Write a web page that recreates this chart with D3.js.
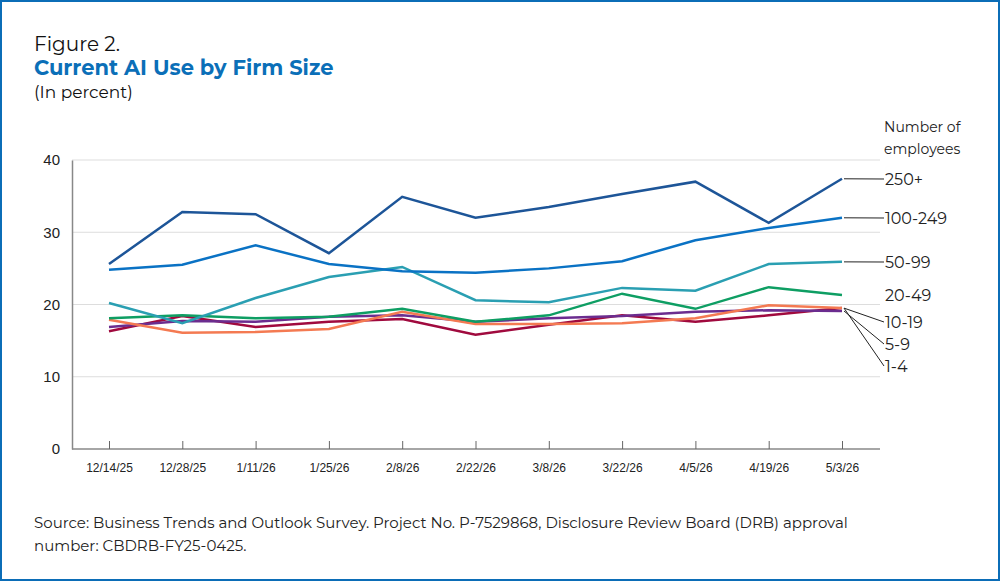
<!DOCTYPE html><html><head><meta charset="utf-8">
<script src="https://cdn.jsdelivr.net/npm/d3@7"></script>
<style>body{margin:0;background:#fff}svg{font-family:"Montserrat","Noto Sans",sans-serif}</style></head><body>
<svg id="c" width="1000" height="581"></svg>
<script>
const dates=["12/14/25","12/28/25","1/11/26","1/25/26","2/8/26","2/22/26","3/8/26","3/22/26","4/5/26","4/19/26","5/3/26"];
const yTicks=[0,10,20,30,40];
const seriesNames=["250+","100-249","50-99","20-49","10-19","5-9","1-4"];
const s250=[25.6,32.8,32.5,27.1,34.9,32.0,33.5,35.3,37.0,31.3,37.4];
const s100=[24.8,25.5,28.2,25.6,24.6,24.4,25.0,26.0,28.9,30.6,32.0];
const s50=[20.2,17.4,20.9,23.8,25.2,20.6,20.3,22.3,21.9,25.6,25.9];
const s20=[18.1,18.5,18.1,18.3,19.4,17.6,18.5,21.5,19.4,22.4,21.3];
const s10=[17.9,16.1,16.2,16.6,19.0,17.3,17.3,17.4,18.1,19.9,19.5];
const s5=[16.9,17.7,17.6,18.3,18.5,17.6,18.1,18.4,19.0,19.2,19.1];
const s1=[16.3,18.4,16.9,17.6,18.0,15.8,17.2,18.5,17.6,18.5,19.5];
const colors=["#1d5598","#0a72c4","#2a9fb2","#0e9e63","#f47a52","#6b2d8f","#a00a3e"];
const labelY=[179,218,262,295,322,344,366];
const values=[s250,s100,s50,s20,s10,s5,s1];
const svg=d3.select("#c");
svg.append("rect").attr("x",1).attr("y",1).attr("width",998).attr("height",579).attr("fill","none").attr("stroke","#0b6db7").attr("stroke-width",2);
svg.append("text").attr("x",34).attr("y",51).attr("font-size",20).attr("fill","#111").text("Figure 2.");
svg.append("text").attr("x",34).attr("y",75).attr("font-size",21).attr("font-weight","bold").attr("fill","#0b6fb8").text("Current AI Use by Firm Size");
svg.append("text").attr("x",34).attr("y",98).attr("font-size",17).attr("fill","#111").text("(In percent)");
const x=d3.scalePoint().domain(dates).range([109,842]);
const y=d3.scaleLinear().domain([0,40]).range([449,160]);
const g=svg.append("g");
yTicks.filter(t=>t>0).forEach(t=>g.append("line").attr("x1",72).attr("x2",880).attr("y1",y(t)).attr("y2",y(t)).attr("stroke","#ddd"));
const ya=g.append("g").attr("transform","translate(72,0)").call(d3.axisLeft(y).tickValues(yTicks).tickSize(0).tickPadding(12));
ya.select(".domain").attr("stroke","#888").attr("stroke-width",1.5);
ya.selectAll("text").attr("font-size",15).attr("fill","#222").attr("font-family","inherit");
const xa=g.append("g").attr("transform","translate(0,449)").call(d3.axisBottom(x).tickSize(-8).tickPadding(14).tickSizeOuter(0));
xa.select(".domain").attr("d","M72,0H880").attr("stroke","#888").attr("stroke-width",1.5);
xa.selectAll(".tick line").attr("y2",-8).attr("stroke","#666");
xa.selectAll("text").attr("font-size",12).attr("fill","#222").attr("font-family","inherit");
const line=d3.line().x((d,i)=>x(dates[i])).y(d=>y(d));
for(let k=values.length-1;k>=0;k--){
 g.append("path").datum(values[k]).attr("d",line).attr("fill","none").attr("stroke",colors[k]).attr("stroke-width",2.5);
}
seriesNames.forEach((n,k)=>{
 const ly=y(values[k][10]);
 if(k!==3) g.append("line").attr("x1",844).attr("y1",ly).attr("x2",884).attr("y2",labelY[k]).attr("stroke","#222").attr("stroke-width",1);
 g.append("text").attr("x",885).attr("y",labelY[k]).attr("dy","0.35em").attr("font-size",16).attr("fill","#222").text(n);
});
svg.append("text").attr("x",884).attr("y",132).attr("font-size",14).attr("fill","#222").text("Number of");
svg.append("text").attr("x",884).attr("y",154).attr("font-size",14).attr("fill","#222").text("employees");
svg.append("text").attr("x",34).attr("y",528).attr("font-size",15).attr("fill","#222").text("Source: Business Trends and Outlook Survey. Project No. P-7529868, Disclosure Review Board (DRB) approval");
svg.append("text").attr("x",34).attr("y",551).attr("font-size",15).attr("fill","#222").text("number: CBDRB-FY25-0425.");
</script></body></html>
